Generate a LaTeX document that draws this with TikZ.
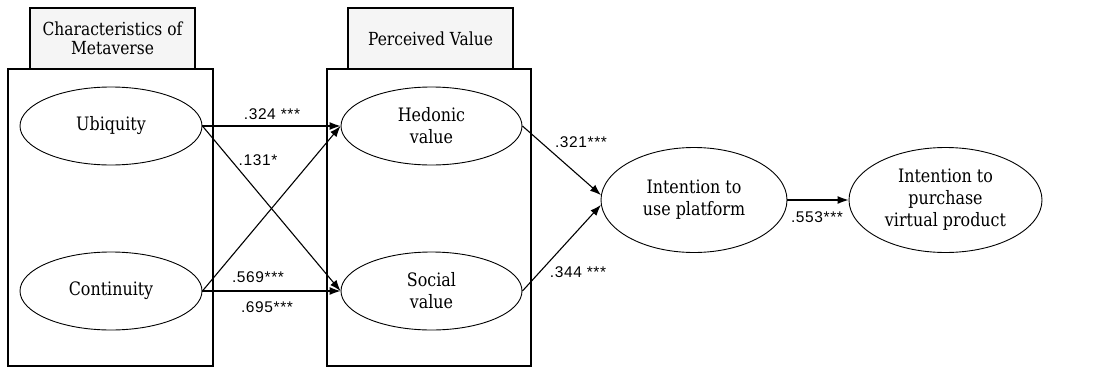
\documentclass[tikz,border=0pt]{standalone}
\usepackage{fontspec}
\setmainfont{DejaVu Serif}[FakeStretch=0.86]
\newfontfamily\lblfont{Liberation Sans}[LetterSpace=4]
\usetikzlibrary{shapes.geometric,arrows.meta,calc}
\begin{document}
\begin{tikzpicture}[x=1pt,y=-1pt,
  ell/.style={draw, ellipse, line width=0.9pt, inner sep=0pt, align=center, font=\fontsize{18.5}{22}\selectfont},
  grp/.style={draw, line width=1.1pt, inner sep=0pt},
  hdr/.style={draw, line width=1.1pt, fill=black!4, inner sep=0pt, align=center, font=\fontsize{18}{18.5}\selectfont},
  arr/.style={-{Latex[length=11pt,width=8pt]}, line width=1.1pt},
  lbl/.style={font=\lblfont\fontsize{15.5}{16}\selectfont, inner sep=0pt, anchor=base}]
\useasboundingbox (0,0) rectangle (1098,367);
% group boxes
\node[grp, minimum width=205pt, minimum height=297pt] (g1) at (110.5,217.5) {};
\node[grp, minimum width=204pt, minimum height=297pt] (g2) at (429,217.5) {};
\node[hdr, minimum width=165pt, minimum height=61pt] (h1) at (112.5,38.5) {Characteristics of\\Metaverse};
\node[hdr, minimum width=165pt, minimum height=61pt] (h2) at (430.5,38.5) {Perceived Value};
% constructs
\node[ell, minimum width=182pt, minimum height=78pt] (ubi) at (111,126) {Ubiquity};
\node[ell, minimum width=182pt, minimum height=78pt] (con) at (111,291) {Continuity};
\node[ell, minimum width=181pt, minimum height=78pt] (hed) at (431.5,126) {Hedonic\\value};
\node[ell, minimum width=181pt, minimum height=78pt] (soc) at (431.5,291) {Social\\value};
\node[ell, minimum width=186pt, minimum height=105pt] (int) at (694,200) {Intention to\\use platform};
\node[ell, minimum width=193pt, minimum height=105pt] (pur) at (945.5,200) {Intention to\\purchase\\virtual product};
% paths
\draw[arr] (ubi.east) -- (hed.west);
\draw[arr] (ubi.east) -- (soc.west);
\draw[arr] (con.east) -- (hed.west);
\draw[arr] (con.east) -- (soc.west);
\draw[arr] (hed.east) -- (int.177);
\draw[arr] (soc.east) -- (int.183);
\draw[arr] (int.east) -- (pur.west);
% labels
\node[lbl] (l1) at (272,119) {.324 ***};
\node[lbl] (l2) at (258,165) {.131*};
\node[lbl] (l3) at (258,282) {.569***};
\node[lbl] (l4) at (267,312) {.695***};
\node[lbl] (l5) at (581,147) {.321***};
\node[lbl] (l6) at (578,277) {.344 ***};
\node[lbl] (l7) at (817,222) {.553***};
\end{tikzpicture}
\end{document}
